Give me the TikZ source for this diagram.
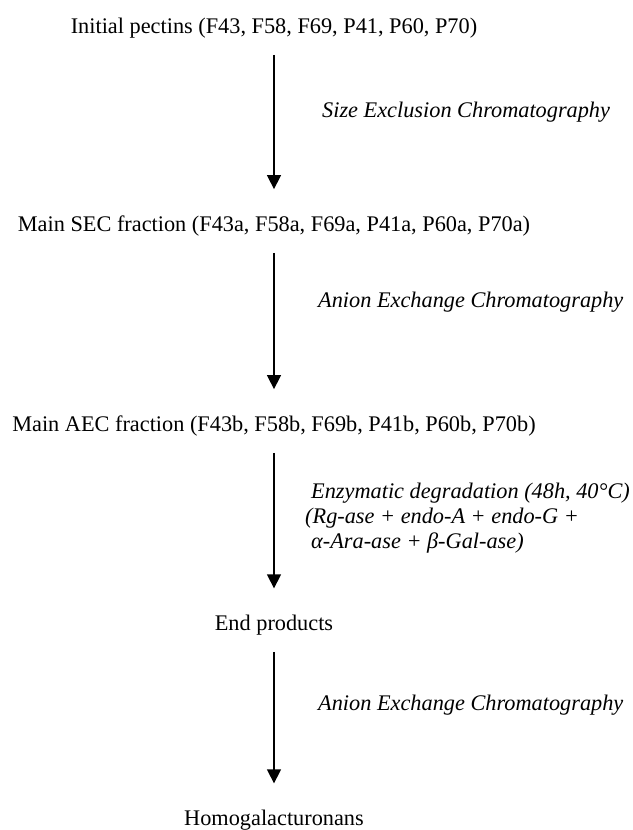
\documentclass[tikz,border=0pt]{standalone}
\usepackage{fontspec}
\setmainfont{Liberation Serif}
\usetikzlibrary{arrows.meta}
\tikzset{
  stage/.style={inner sep=0pt, anchor=base, font=\fontsize{22.3}{25}\selectfont},
  method/.style={inner sep=0pt, anchor=base west, font=\fontsize{22.3}{25}\selectfont\itshape},
  flow/.style={line width=1.5pt, -{Triangle[length=14pt,width=14pt]}, shorten <=17pt, shorten >=26pt}
}
\begin{document}
\begin{tikzpicture}[x=1pt,y=1pt,yscale=-1,xscale=1]
\useasboundingbox (0,0) rectangle (632,830);

%Text Nodes: stages
\node [stage] (init) at (274,33) {Initial pectins (F43, F58, F69, P41, P60, P70)};
\node [stage] (sec) at (274,231) {Main SEC fraction (F43a, F58a, F69a, P41a, P60a, P70a)};
\node [stage] (aec) at (274,431) {Main AEC fraction (F43b, F58b, F69b, P41b, P60b, P70b)};
\node [stage] (ends) at (274,630) {End products};
\node [stage] (hg) at (274,825) {Homogalacturonans};

%Straight Lines: arrows
\draw [flow] (init.south) -- (init.south |- sec.north);
\draw [flow] (sec.south) -- (sec.south |- aec.north);
\draw [flow] (aec.south) -- (aec.south |- ends.north);
\draw [flow] (ends.south) -- (ends.south |- hg.north);

%Text Nodes: methods
\node [method] (size) at (322,117) {Size Exclusion Chromatography};
\node [method] (anion1) at (318,307) {Anion Exchange Chromatography};
\node [method] (enz1) at (311,498) {Enzymatic degradation (48h, 40°C)};
\node [method] (enz2) at (305,523) {(Rg-ase + endo-A + endo-G +};
\node [method] (enz3) at (311,548) {α-Ara-ase + β-Gal-ase)};
\node [method] (anion2) at (318,710) {Anion Exchange Chromatography};

\end{tikzpicture}
\end{document}
